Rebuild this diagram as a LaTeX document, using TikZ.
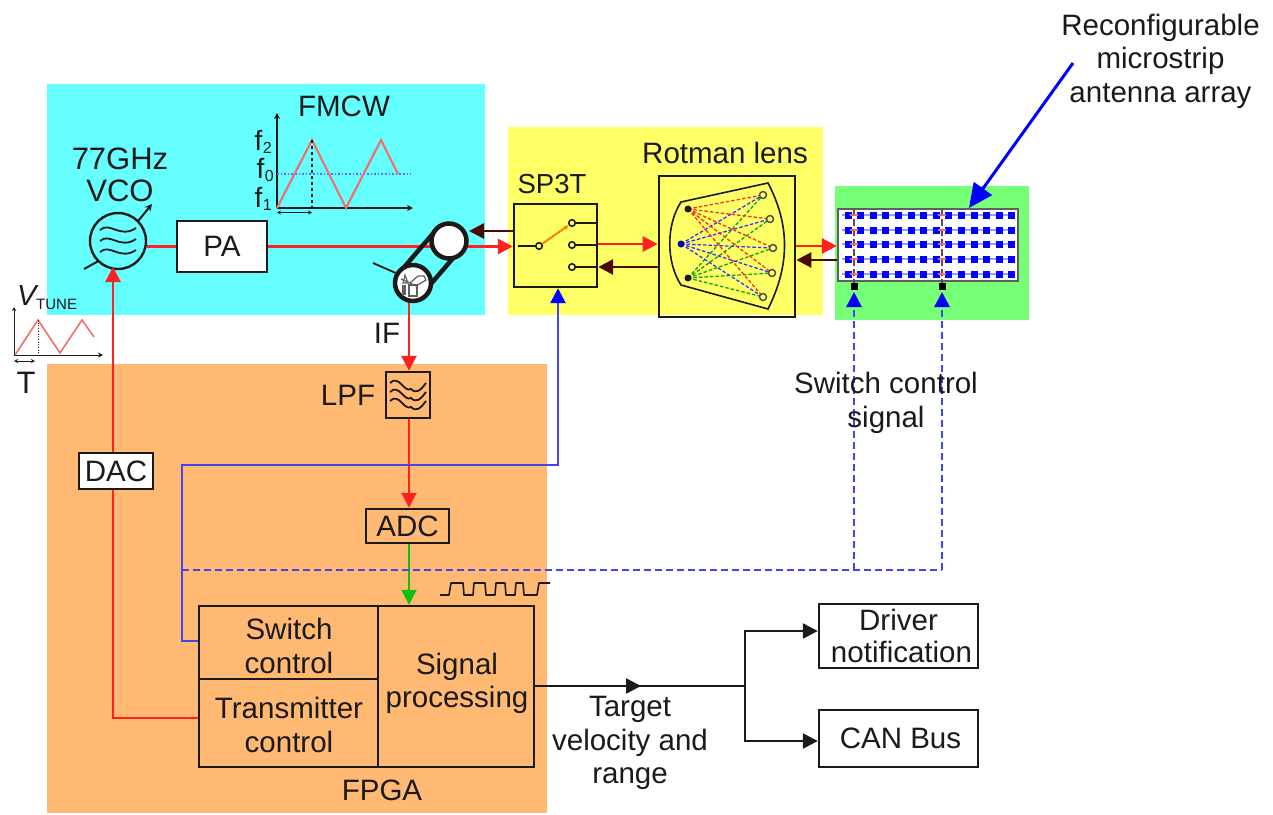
\documentclass[tikz,border=0pt]{standalone}
\usepackage{fontspec}
\setmainfont{Liberation Sans}
\usetikzlibrary{arrows.meta,calc}
\definecolor{bgcyan}{HTML}{66FFFF}
\definecolor{bgorange}{HTML}{FFB973}
\definecolor{bgyellow}{HTML}{FFFF66}
\definecolor{bggreen}{HTML}{77FF77}
\definecolor{sigred}{HTML}{FF2020}
\definecolor{backbrown}{HTML}{4A0A0A}
\definecolor{ctrlblue}{HTML}{4444F0}
\definecolor{sigblue}{HTML}{0000FF}
\definecolor{siggreen}{HTML}{10C010}
\definecolor{ramp}{HTML}{F07070}
\definecolor{ink}{HTML}{1A1A1A}
\tikzset{
  x=1pt,y=-1pt,
  lbl/.style={font=\fontsize{29.5}{33.5}\selectfont,text=ink,inner sep=0pt,align=center},
  sm/.style={font=\fontsize{28}{30}\selectfont,text=ink,inner sep=0pt},
  sub/.style={font=\fontsize{16}{17}\selectfont,text=ink,inner sep=0pt},
  boxw/.style={draw=ink,line width=2.4pt,fill=white,inner sep=0pt,font=\fontsize{29.5}{33.5}\selectfont,text=ink,align=center},
  boxn/.style={draw=ink,line width=2.4pt,inner sep=0pt,font=\fontsize{29.5}{33.5}\selectfont,text=ink,align=center},
  tip/.style={-{Triangle[length=15pt,width=15pt]}},
  tipblue/.style={-{Triangle[length=15pt,width=15pt,color=sigblue]}},
  red line/.style={draw=sigred,line width=2.8pt},
  back line/.style={draw=backbrown,line width=2.8pt},
  black line/.style={draw=ink,line width=2.4pt},
  ctrl/.style={draw=ctrlblue,line width=2.6pt},
  ctrl dash/.style={draw=ctrlblue,line width=2.6pt,dash pattern=on 7pt off 4pt},
  axisline/.style={draw=ink,line width=1.6pt,-{Stealth[length=6pt,width=6pt]}},
  contact/.style={circle,draw=ink,line width=1.6pt,fill=none,minimum size=6.5pt,inner sep=0pt},
  lens port/.style={circle,draw=ink!80,line width=1.4pt,fill=none,minimum size=7pt,inner sep=0pt},
  lens ray/.style={line width=1.3pt,dash pattern=on 3.5pt off 2pt},
}
\newcommand{\wavy}[3]{%
  \draw[ink,line width=1.8pt] (#1-#3,#2) .. controls (#1-#3*0.45,#2-9) and (#1+#3*0.1,#2+9) .. (#1+#3,#2-2);}
\begin{document}
\begin{tikzpicture}
\useasboundingbox (0,0) rectangle (1273,814);
% background regions
\fill[bgcyan] (47,84) rectangle (485,315);
\fill[bgorange] (47,364) rectangle (547,813);
\fill[bgyellow] (508,127) rectangle (823,315);
\fill[bggreen] (835,186) rectangle (1029,320);

% main nodes
\node[draw=ink,line width=2.4pt,circle,minimum size=56pt,inner sep=0pt] (vco) at (118,241) {};
\node[boxw,minimum width=90pt,minimum height=51pt] (pa) at (222,246.5) {PA};
\node[boxn,minimum width=83pt,minimum height=83pt] (sw) at (555.5,245.5) {};
\node[boxn,minimum width=136pt,minimum height=141pt,line width=2.8pt] (rot) at (727,246.5) {};
\node[boxw,draw=ink!70,minimum width=180pt,minimum height=72pt] (ant) at (928,245) {};
\node[boxn,minimum width=44pt,minimum height=46pt] (lpf) at (408,395) {};
\node[boxn,minimum width=83pt,minimum height=34pt] (adc) at (407.5,526) {ADC};
\node[boxn,minimum width=179pt,minimum height=73pt] (swc) at (288.5,642.5) {};
\node[boxn,minimum width=179pt,minimum height=88pt] (txc) at (288.5,723) {};
\node[boxn,minimum width=156pt,minimum height=161pt] (sp) at (456,686.5) {};
\node[boxw,minimum width=159pt,minimum height=64pt] (drv) at (898.5,636) {Driver\\[-1pt]\hspace*{6pt}notification};
\node[boxw,minimum width=159pt,minimum height=57pt] (can) at (898.5,738.4) {\hspace*{4pt}CAN Bus};

% junction coordinates
\coordinate (vcoin) at (113,267);
\coordinate (txcw) at (113,718);
\coordinate (ifout) at (409,300);
\coordinate (blueA) at (182,641);
\coordinate (blueB) at (182,465);
\coordinate (blueC) at (558,465);
\coordinate (blueD) at (182,570);
\coordinate (feedA) at (854,570);
\coordinate (feedB) at (942,570);
\coordinate (feedAt) at (854,292);
\coordinate (feedBt) at (942,292);
\coordinate (spout) at (745,686);
\coordinate (midtip) at (641,686);
\coordinate (labarrow) at (1073,63);

% connectors
\draw[red line] (vco.east |- pa.west) -- (pa.west);
\draw[red line,tip] (pa.east) -- (sw.west |- pa.east);
\draw[back line,tip] (sw.west |- 0,231) -- (469,231);
\draw[red line,tip] (sw.east |- 0,244) -- (rot.west |- 0,244);
\draw[back line,tip] (rot.west |- 0,267) -- (sw.east |- 0,267);
\draw[red line,tip] (rot.east |- 0,246) -- (ant.west |- 0,246);
\draw[back line,tip] (ant.west |- 0,260) -- (rot.east |- 0,260);
\draw[red line,tip] (ifout) -- (ifout |- lpf.north);
\draw[red line,tip] (ifout |- lpf.south) -- (ifout |- adc.north);
\draw[draw=siggreen,line width=2.4pt,tip] (ifout |- adc.south) -- (ifout |- sp.north);
\draw[red line,tip] (txc.west |- txcw) -- (txcw) -- (vcoin);
\draw[ctrl,tipblue] (swc.west |- blueA) -- (blueA) -- (blueB) -- (blueC) -- (blueC |- sw.south);
\draw[ctrl dash] (blueD) -- (feedB);
\draw[ctrl dash,tipblue] (feedA) -- (feedAt);
\draw[ctrl dash,tipblue] (feedB) -- (feedBt);
\draw[black line] (sp.east |- spout) -- (spout);
\draw[black line,tip] (sp.east |- spout) -- (midtip);
\draw[black line,tip] (spout) |- (drv.west |- 0,631);
\draw[black line,tip] (spout) |- (can.west |- 0,741);
\draw[draw=sigblue,line width=3pt,-{Triangle[length=24pt,width=22pt]}] (labarrow) -- (969,208);

% DAC above the red line
\node[boxw,minimum width=74pt,minimum height=36pt] (dac) at (116,471) {DAC};

% VCO details
\draw[ink,line width=2pt] (vco.-135) -- (84,269);
\draw[ink,line width=2pt,-{Stealth[length=7pt,width=7pt]}] (vco.45) -- (152,204);
\wavy{118}{230}{18}
\wavy{118}{241}{18}
\wavy{118}{252}{18}

% circulator and mixer
\draw[ink,line width=4.5pt,line cap=round] (400,272) -- (436,230) (424,292) -- (460,250);
\node[circle,draw=ink,line width=4.5pt,fill=white,minimum size=35pt,inner sep=0pt] (circ) at (449,241) {};
\node[circle,draw=ink,line width=4.5pt,fill=white,minimum size=36pt,inner sep=0pt] (mix) at (413,283) {};
\draw[ink,line width=1.8pt] (mix.150) -- (373,263);
\draw[ink!70,line width=1.2pt] (409,285) rectangle (417,296);
\draw[ink!70,line width=1.2pt] (403,285) -- (403,296) (405,285) -- (405,295);
\draw[ink!70,line width=1.2pt] (401,279) -- (410,283) -- (418,276) -- (424,276) -- (426,280) -- (416,286) -- (410,283);
\draw[ink!70,line width=1.2pt] (405,275) -- (403,283) -- (408,283) -- cycle;

% LPF waves
\begin{scope}[shift={(408,395)}]
\foreach \d in {-9,0,9}{
  \draw[ink,line width=1.8pt] (-18,\d-3) .. controls (-9,\d-12) and (-4,\d+7) .. (3,\d+3) .. controls (8,\d+8) and (12,\d+5) .. (18,\d-3);}
\end{scope}

% SP3T switch
\node[contact] (pole) at (539,246) {};
\node[contact] (t1) at (572,223) {};
\node[contact] (t2) at (572,245) {};
\node[contact] (t3) at (572,267) {};
\draw[ink,line width=2pt] (518,246) -- (pole);
\foreach \t in {t1,t2,t3}{\draw[ink,line width=2pt] (\t) -- (\t -| sw.east);}
\draw[draw=orange,line width=2pt,-{Stealth[length=5pt,width=5pt]}] (pole) -- (t1);

% Rotman lens
\draw[ink,line width=1.6pt] (681,202) -- (768,183) .. controls (790,225) and (790,265) .. (768,309) -- (681,285) .. controls (666,262) and (666,225) .. cycle;
\coordinate (L1) at (688,209); \coordinate (L2) at (681,244); \coordinate (L3) at (688,278);
\coordinate (R1) at (763,195); \coordinate (R2) at (770,219); \coordinate (R3) at (773,248); \coordinate (R4) at (772,273); \coordinate (R5) at (763,297);
\foreach \r in {R1,R2,R3,R4,R5}{
  \draw[lens ray,draw=sigred!85!orange] (L1) -- (\r);
  \draw[lens ray,draw=sigblue!80] (L2) -- (\r);
  \draw[lens ray,draw=siggreen!85!black] (L3) -- (\r);}
\fill[ink] (L1) circle (3.5pt) (L3) circle (3.5pt);
\fill[sigblue!70!black] (L2) circle (3.5pt);
\foreach \r in {R1,R2,R3,R4,R5}{\node[lens port,fill=bgyellow] at (\r) {};}

% antenna array
\foreach \y in {215,230,244,259,274}{
  \draw[draw=sigblue!40,line width=1.4pt] (842,\y) -- (1014,\y);
  \foreach \i in {0,...,13}{\fill[sigblue] (848+\i*12.6-3.5,\y-3.5) rectangle ++(7,7);}
}
\draw[draw=ink!75,line width=2.4pt,dash pattern=on 7pt off 3pt] (854,209) -- (854,283);
\draw[draw=ink!75,line width=2.4pt,dash pattern=on 7pt off 3pt] (942,209) -- (942,283);
\foreach \y in {215,230,244,259,274}{
  \draw[draw=sigred!70,line width=1.2pt] (850,\y) -- (858,\y);
  \draw[draw=sigred!70,line width=1.2pt] (938,\y) -- (946,\y);}
\fill[black] (850.5,282.5) rectangle ++(7,7);
\fill[black] (938.5,282.5) rectangle ++(7,7);

% FMCW plot
\draw[axisline] (277,208) -- (277,113);
\draw[axisline] (277,208) -- (413,208);
\draw[draw=sigblue!60,line width=1.6pt,dotted] (277,174) -- (411,174);
\draw[draw=ramp,line width=2.2pt] (277,208) -- (312,140) -- (346,208) -- (381,140) -- (398,174);
\draw[ink,line width=1.8pt,dashed] (312,140) -- (312,208);
\draw[ink,line width=1pt,{Stealth[length=4pt,width=4pt]}-{Stealth[length=4pt,width=4pt]}] (277,212.5) -- (312,212.5);
\node[sm,anchor=base west] (fa) at (254.5,150) {f};
\node[sub,anchor=base west] at ($(fa.base east)+(0,3)$) {2};
\node[sm,anchor=base west] (fb) at (256.5,178) {f};
\node[sub,anchor=base west] at ($(fb.base east)+(0,3)$) {0};
\node[sm,anchor=base west] (fc) at (254.5,207) {f};
\node[sub,anchor=base west] at ($(fc.base east)+(0,3)$) {1};

% VTUNE plot
\draw[axisline,line width=1pt,-{Stealth[length=4pt,width=4pt]}] (14,355) -- (14,307);
\draw[axisline,line width=1pt,-{Stealth[length=5pt,width=5pt]}] (14,355) -- (103,355);
\draw[draw=ramp,line width=1.6pt] (15,355) -- (38,320) -- (60,353) -- (82,320) -- (94,337);
\draw[ink,line width=0.7pt,dotted] (38,320) -- (38,355);
\draw[ink,line width=1pt,{Stealth[length=4pt,width=4pt]}-{Stealth[length=4pt,width=4pt]}] (14,361) -- (35,361);
\node[anchor=base west,inner sep=0pt,text=ink,font=\fontsize{29}{31}\selectfont\itshape] (vt) at (17,305) {V};
\node[anchor=base west,inner sep=0pt,text=ink,font=\fontsize{15}{16}\selectfont] (vtt) at (36,309) {TUNE};
\node[anchor=base,inner sep=0pt,text=ink,font=\fontsize{31}{33}\selectfont] (tl) at (26,393) {T};

% labels
\node[lbl,font=\fontsize{31}{32}\selectfont] (lvco) at (120,175) {77GHz\\VCO};
\node[lbl] (lfm) at (344,106) {FMCW};
\node[lbl,font=\fontsize{27.5}{30}\selectfont] (lsw) at (552,184) {SP3T};
\node[lbl] (lrot) at (725,153) {Rotman lens};
\node[lbl] (lant) at (1160.5,61) {Reconfigurable\\microstrip\\antenna array};
\node[lbl] (lif) at (387,333) {IF};
\node[lbl] (llpf) at (348,395) {LPF};
\node[lbl] (lctl) at (886,403) {Switch control\\signal};
\node[lbl] (lsc) at (289,646) {Switch\\control};
\node[lbl] (ltc) at (289,725) {Transmitter\\control};
\node[lbl] (lsp) at (457,683.5) {Signal\\processing};
\node[lbl] (lf) at (382,790) {FPGA};
\node[lbl] (ltg) at (630,743) {Target\\velocity and\\range};

% square wave
\draw[ink,line width=1.6pt,line join=round] (440,595) -- (449,595) -- (451,583) -- (463,583) -- (464,595) -- (473,595) -- (474,583) -- (485,583) -- (486,595) -- (495,595) -- (496,583) -- (505,583) -- (506,595) -- (515,595) -- (516,583) -- (523,583) -- (524,595) -- (537,595) -- (539,583) -- (550,583);
\end{tikzpicture}
\end{document}
